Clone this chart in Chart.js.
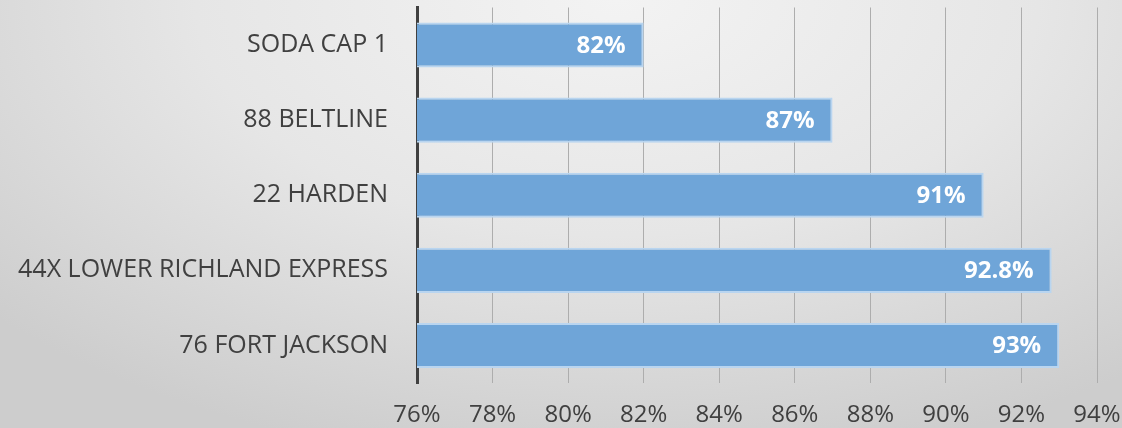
<!DOCTYPE html>
<html>
<head>
<meta charset="utf-8">
<script src="https://cdn.jsdelivr.net/npm/chart.js@4/dist/chart.umd.min.js"></script>
<style>
	html, body { margin: 0; padding: 0; }
	body {
		width: 1122px;
		height: 428px;
		background: radial-gradient(ellipse 75% 110% at 55% 0%, #f3f3f3 0%, #e6e6e6 50%, #cdcdcd 100%);
	}
	#wrap { position: relative; width: 1122px; height: 428px; }
</style>
</head>
<body>
<div id="wrap"><canvas id="routeChart" width="1122" height="428"></canvas></div>
<script>
//CHART DATA
const routes = ["SODA CAP 1", "88 BELTLINE", "22 HARDEN", "44X LOWER RICHLAND EXPRESS", "76 FORT JACKSON"];
const onTime = [82, 87, 91, 92.8, 93];
const valueLabels = ["82%", "87%", "91%", "92.8%", "93%"];
const axisMin = 76;
const axisMax = 94;
const axisStep = 2;

//  WHITE LABELS AT BAR END
const barLabels = {
	id: "barLabels",
	afterDatasetsDraw(chart) {
		const ctx = chart.ctx;
		const meta = chart.getDatasetMeta(0);
		ctx.save();
		ctx.font = "bold 24px 'Open Sans'";
		ctx.fillStyle = "#ffffff";
		ctx.textAlign = "right";
		ctx.textBaseline = "middle";
		meta.data.forEach((bar, i) => {
			ctx.fillText(valueLabels[i], bar.x - 18, bar.y + 1);
		});
		ctx.restore();
	},
};

var routeChart = new Chart(document.getElementById("routeChart").getContext("2d"), {
	type: "bar",
	data: {
		labels: routes,
		datasets: [
			{
				data: onTime,
				backgroundColor: "rgb(111, 165, 216)",
				borderColor: "rgb(185, 213, 240)",
				borderWidth: 2,
				borderSkipped: "start",
				categoryPercentage: 1,
				barPercentage: 0.6,
			},
		],
	},
	options: {
		indexAxis: "y",
		responsive: false,
		animation: false,
		layout: { padding: { top: 0, right: 25, left: 0, bottom: 0 } },
		plugins: { legend: { display: false }, tooltip: { enabled: false } },
		scales: {
			x: {
				min: axisMin,
				max: axisMax,
				ticks: {
					stepSize: axisStep,
					padding: 0,
					color: "#404040",
					font: { family: "'Open Sans'", size: 24 },
					callback: (v) => v + "%",
				},
				grid: { color: "#adadad", lineWidth: 1, drawTicks: true, tickLength: 18, tickColor: "rgba(0,0,0,0)" },
				border: { display: false },
				afterFit: (s) => { s.height = 45; },
			},
			y: {
				ticks: {
					padding: 0,
					color: "#404040",
					font: { family: "'Open Sans'", size: 25, lineHeight: 0.6 },
				},
				grid: { display: true, drawOnChartArea: false, drawTicks: true, tickLength: 29, tickColor: "rgba(0,0,0,0)" },
				border: { color: "#404040", width: 3 },
				afterFit: (s) => { s.width = 417; },
			},
		},
	},
	plugins: [barLabels],
});
</script>
</body>
</html>
